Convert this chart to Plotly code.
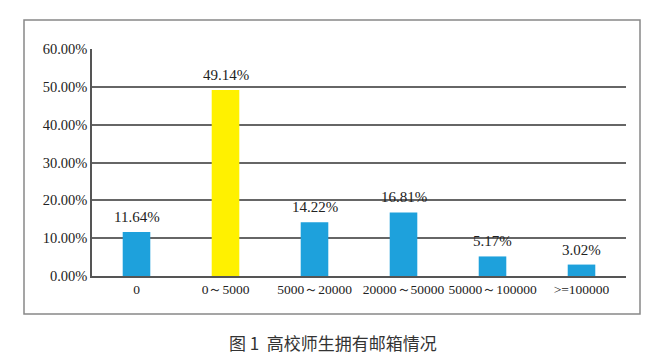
import plotly.graph_objects as go

categories = ["0", "0～5000", "5000～20000", "20000～50000", "50000～100000", ">=100000"]
values = [0.1164, 0.4914, 0.1422, 0.1681, 0.0517, 0.0302]
labels = ["11.64%", "49.14%", "14.22%", "16.81%", "5.17%", "3.02%"]
bar_colors = ["#1EA1DC", "#FFF100", "#1EA1DC", "#1EA1DC", "#1EA1DC", "#1EA1DC"]
caption = "图 1  高校师生拥有邮箱情况"

W, H = 650, 358
L, R, T, B = 84, 32, 41, 90
pw, ph = W - L - R, H - T - B
SERIF = "Liberation Serif, Times New Roman, serif"

def px(x):
    return (x - L) / pw

def py(y):
    return (H - B - y) / ph

fig = go.Figure(go.Bar(
    x=categories, y=values, marker_color=bar_colors, width=0.31,
))

label_annots = [dict(x=c, y=v, text=t, xref="x", yref="y", showarrow=False,
                     xanchor="center", yanchor="bottom", yshift=5,
                     font=dict(family=SERIF, size=15, color="#222"))
                for c, v, t in zip(categories, values, labels)]

fig.update_layout(
    template="none",
    width=W, height=H, margin=dict(l=L, r=R, t=T, b=B, pad=0),
    paper_bgcolor="white", plot_bgcolor="white", showlegend=False,
    font=dict(family=SERIF, size=14, color="#222"),
    xaxis=dict(showline=True, linecolor="#555", linewidth=1.5, ticks="",
               automargin=False, showgrid=False, tickangle=0,
               tickfont=dict(family=SERIF, size=13.5, color="#222")),
    yaxis=dict(range=[0, 0.6], dtick=0.1, tickformat=".2%", showline=True,
               linecolor="#555", linewidth=1.5, gridcolor="#666", gridwidth=1.5,
               ticks="", zeroline=False, automargin=False,
               tickfont=dict(family=SERIF, size=14.5, color="#222")),
    shapes=[dict(type="rect", xref="paper", yref="paper",
                 x0=px(16), x1=px(632), y0=py(306), y1=py(12),
                 line=dict(color="#888", width=1.5), layer="below")],
    annotations=label_annots + [dict(text=caption, xref="paper", yref="paper",
                      x=px(325), y=py(334), xanchor="center", yanchor="middle",
                      showarrow=False,
                      font=dict(family="Noto Sans CJK SC", size=17, color="#333"))],
)

fig.write_html("out.html")
